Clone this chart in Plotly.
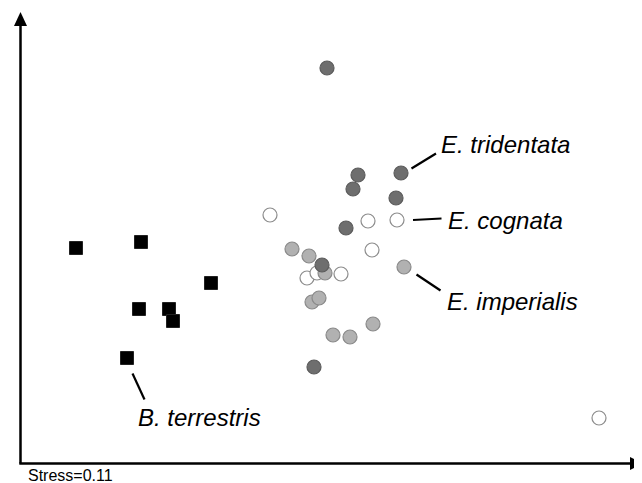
import plotly.graph_objects as go

# NMDS ordination scores (arbitrary units)
terrestris_x = [76, 141, 211, 139, 169, 173, 127]
terrestris_y = [235, 241, 200, 174, 174, 162, 125]

tridentata_x = [327, 358, 401, 353, 396, 346, 322, 314]
tridentata_y = [415, 308, 310, 294, 285, 255, 218, 116]

imperialis_x = [292, 309, 325, 404, 312, 319, 373, 333, 350]
imperialis_y = [234, 227, 210, 216, 181, 185, 159, 148, 146]

cognata_x = [270, 368, 397, 372, 307, 317, 341, 599]
cognata_y = [268, 262, 263, 233, 205, 210, 209, 65]

labels = ["E. tridentata", "E. cognata", "E. imperialis", "B. terrestris"]
stress_text = "Stress=0.11"

W, H = 642, 483
PAGE_OFF = 8  # default body margin of the html page

fig = go.Figure()

fig.add_trace(go.Scatter(
    x=cognata_x, y=cognata_y, mode="markers", cliponaxis=False,
    marker=dict(symbol="circle", size=14, color="white",
                line=dict(color="#8c8c8c", width=1.2)),
    name="E. cognata"))
fig.add_trace(go.Scatter(
    x=imperialis_x, y=imperialis_y, mode="markers", cliponaxis=False,
    marker=dict(symbol="circle", size=14, color="#b1b1b1",
                line=dict(color="#8a8a8a", width=1.2)),
    name="E. imperialis"))
fig.add_trace(go.Scatter(
    x=tridentata_x, y=tridentata_y, mode="markers", cliponaxis=False,
    marker=dict(symbol="circle", size=14, color="#6e6e6e",
                line=dict(color="#5c5c5c", width=1.2)),
    name="E. tridentata"))
fig.add_trace(go.Scatter(
    x=terrestris_x, y=terrestris_y, mode="markers", cliponaxis=False,
    marker=dict(symbol="square", size=13, color="black",
                line=dict(color="#222222", width=1)),
    name="B. terrestris"))

def py(v):
    return H - v

# axes with arrowheads
shapes = [
    dict(type="line", x0=20.5, y0=py(463.5), x1=20.5, y1=py(24),
         line=dict(color="black", width=2.5)),
    dict(type="path", path=f"M 20.5 {py(12)} L 14 {py(26)} L 27 {py(26)} Z",
         fillcolor="black", line=dict(color="black", width=0)),
    dict(type="line", x0=19.3, y0=py(463.5), x1=632, y1=py(463.5),
         line=dict(color="black", width=2.5)),
    dict(type="path", path=f"M 643 {py(463.5)} L 630 {py(457)} L 630 {py(470)} Z",
         fillcolor="black", line=dict(color="black", width=0)),
    # pointer lines
    dict(type="line", x0=411.5, y0=py(168.5), x1=436, y1=py(153.5),
         line=dict(color="black", width=2.2)),
    dict(type="line", x0=413, y0=py(220), x1=441.5, y1=py(218.5),
         line=dict(color="black", width=2.2)),
    dict(type="line", x0=416.5, y0=py(274.5), x1=440.5, y1=py(290.5),
         line=dict(color="black", width=2.2)),
    dict(type="line", x0=132.5, y0=py(373.5), x1=144.5, y1=py(399.5),
         line=dict(color="black", width=2.2)),
]

label_pos = [(439, 144), (446, 220.5), (445, 301), (136, 417)]
annotations = []
for t, (lx, ly) in zip(labels, label_pos):
    annotations.append(dict(
        x=lx, y=py(ly), text=f"<i>{t}</i>", showarrow=False,
        xanchor="left", yanchor="middle", xref="x", yref="y",
        font=dict(family="Liberation Sans, Arial", size=24, color="black")))
annotations.append(dict(
    x=26, y=py(465), text=stress_text, showarrow=False,
    xanchor="left", yanchor="top", xref="x", yref="y",
    font=dict(family="Liberation Sans, Arial", size=16, color="black")))

fig.update_layout(
    width=W, height=H,
    margin=dict(l=0, r=0, t=0, b=0),
    paper_bgcolor="white", plot_bgcolor="white",
    showlegend=False,
    xaxis=dict(range=[PAGE_OFF, W + PAGE_OFF], visible=False, fixedrange=True),
    yaxis=dict(range=[-PAGE_OFF, H - PAGE_OFF], visible=False, fixedrange=True),
    shapes=shapes,
    annotations=annotations,
)

fig.write_html("out.html")
